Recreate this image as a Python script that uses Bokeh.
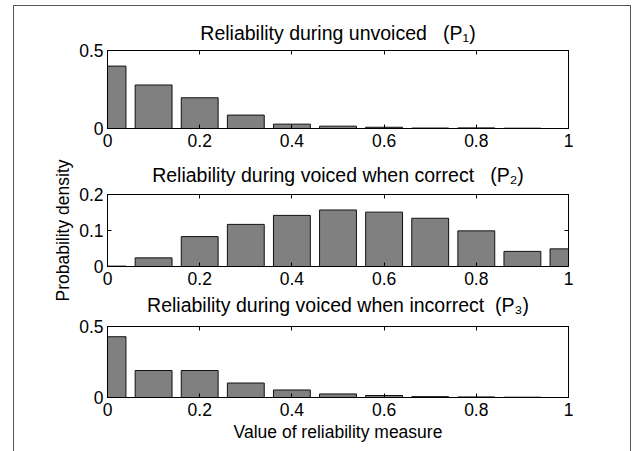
from bokeh.plotting import figure
from bokeh.layouts import column
from bokeh.models import ColumnDataSource, FixedTicker, LinearAxis, Range1d, CustomJSTickFormatter
from bokeh.embed import file_html
from bokeh.resources import INLINE

# ---- data ----
bins = [0.0, 0.1, 0.2, 0.3, 0.4, 0.5, 0.6, 0.7, 0.8, 0.9, 1.0]
p1_vals = [0.40, 0.279, 0.197, 0.086, 0.028, 0.015, 0.008, 0.003, 0.004, 0.002, 0.0]
p2_vals = [0.001, 0.024, 0.083, 0.117, 0.142, 0.157, 0.151, 0.134, 0.099, 0.042, 0.049]
p3_vals = [0.428, 0.19, 0.19, 0.102, 0.053, 0.025, 0.014, 0.006, 0.004, 0.002, 0.0]

titles = ["Reliability during unvoiced\u00a0\u00a0\u00a0(P\u2081)",
          "Reliability during voiced when correct\u00a0\u00a0\u00a0(P\u2082)",
          "Reliability during voiced when incorrect\u00a0\u00a0(P\u2083)"]
x_ticks = [0, 0.2, 0.4, 0.6, 0.8, 1]
x_tick_labels = ["0", "0.2", "0.4", "0.6", "0.8", "1"]
y_ticks = [[0, 0.5], [0, 0.1, 0.2], [0, 0.5]]
y_tick_labels = [["0", "0.5"], ["0", "0.1", "0.2"], ["0", "0.5"]]
y_max = [0.5, 0.2, 0.5]
y_label = "Probability density"
x_label = "Value of reliability measure"

FONT = "Liberation Sans"
W = 616
heights = [148, 156, 173]
borders_top = [44, 46, 48]
borders_bottom = [26, 38, 54]
title_standoff = [14, 17, 22]
overlap = [0, 6, 26]

figs = []
for i, vals in enumerate([p1_vals, p2_vals, p3_vals]):
    p = figure(width=W, height=heights[i], output_backend="svg", toolbar_location=None,
               x_range=Range1d(0, 1), y_range=Range1d(0, y_max[i]),
               min_border_left=93, min_border_right=62,
               min_border_top=borders_top[i], min_border_bottom=borders_bottom[i],
               title=titles[i], margin=(-overlap[i], 0, 0, 0))
    src = ColumnDataSource(dict(x=bins, top=vals))
    p.vbar(x="x", top="top", width=0.08, bottom=0, source=src,
           fill_color="#808080", line_color="#111111", line_width=1)
    p.grid.visible = False
    p.outline_line_color = "black"
    p.background_fill_color = "white"
    p.border_fill_alpha = 0

    p.title.text_font = FONT
    p.title.text_font_size = "19.5px"
    p.title.text_font_style = "normal"
    p.title.align = "center"
    p.title.text_color = "black"
    p.title.standoff = title_standoff[i]

    xa = p.below[0]
    ya = p.left[0]
    xa.ticker = FixedTicker(ticks=x_ticks)
    xa.major_label_overrides = {t: l for t, l in zip(x_ticks, x_tick_labels)}
    ya.ticker = FixedTicker(ticks=y_ticks[i])
    ya.major_label_overrides = {t: l for t, l in zip(y_ticks[i], y_tick_labels[i])}
    for ax in (xa, ya):
        ax.major_tick_in = 4
        ax.major_tick_out = 0
        ax.minor_tick_line_color = None
        ax.axis_line_color = "black"
        ax.major_tick_line_color = "black"
        ax.major_label_text_font = FONT
        ax.major_label_text_font_size = "17.5px"
        ax.major_label_text_color = "black"
        ax.axis_label_text_font = FONT
        ax.axis_label_text_font_size = "17.5px"
        ax.axis_label_text_font_style = "normal"
        ax.axis_label_text_color = "black"
    xa.major_label_standoff = 5
    ya.major_label_standoff = 4
    ya.major_label_orientation = "horizontal"

    blank = CustomJSTickFormatter(code="return ''")
    top_ax = LinearAxis(ticker=FixedTicker(ticks=x_ticks), formatter=blank,
                        major_tick_in=4, major_tick_out=0, minor_tick_line_color=None,
                        axis_line_color="black", major_label_standoff=0)
    right_ax = LinearAxis(ticker=FixedTicker(ticks=y_ticks[i]), formatter=blank,
                          major_tick_in=4, major_tick_out=0, minor_tick_line_color=None,
                          axis_line_color="black", major_label_standoff=0)
    p.add_layout(top_ax, "above")
    p.add_layout(right_ax, "right")
    figs.append((p, xa, ya))

figs[1][2].axis_label = y_label
figs[1][2].axis_label_standoff = 3
figs[2][1].axis_label = x_label
figs[2][1].axis_label_standoff = 3

layout = column(*[f[0] for f in figs], spacing=0, margin=(5, 0, 0, 13),
                styles={"border-left": "1px solid #555", "border-top": "1px solid #555",
                        "border-right": "1px solid #555", "background-color": "white"})

open("out.html", "w").write(file_html(layout, INLINE))
